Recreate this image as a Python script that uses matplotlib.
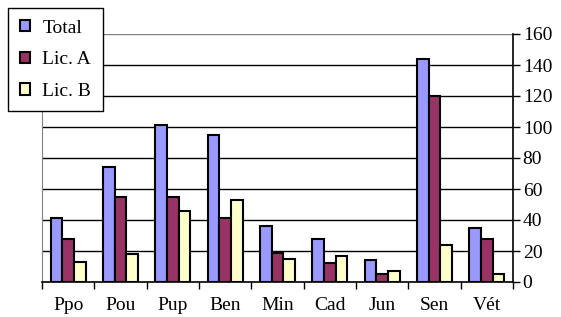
import matplotlib
matplotlib.use("Agg")
import matplotlib.pyplot as plt
import numpy as np

categories = ["Ppo", "Pou", "Pup", "Ben", "Min", "Cad", "Jun", "Sen", "Vét"]
total = [41, 74, 101, 95, 36, 28, 14, 144, 35]
lic_a = [28, 55, 55, 41, 19, 12, 5, 120, 28]
lic_b = [13, 18, 46, 53, 15, 17, 7, 24, 5]
series_names = ["Total", "Lic. A", "Lic. B"]
colors = ["#9999FF", "#993366", "#FFFFCC"]
y_ticks = [0, 20, 40, 60, 80, 100, 120, 140, 160]

plt.rcParams['font.family'] = ['Liberation Serif', 'DejaVu Serif']
FS = 14

fig = plt.figure(figsize=(5.61, 3.17), dpi=100)
W, H = 561, 317
ax = fig.add_axes([42 / W, 1 - 282 / H, (513 - 42) / W, (282 - 34) / H])

x = np.arange(len(categories))
bw = 0.225
for i, (vals, name, c) in enumerate(zip([total, lic_a, lic_b], series_names, colors)):
    ax.bar(x + (i - 1) * bw, vals, width=bw, color=c, edgecolor="black",
           linewidth=1.5, label=name, zorder=3)

ax.set_xlim(-0.5, len(categories) - 0.5)
ax.set_ylim(0, 160)
ax.set_yticks(y_ticks)
ax.yaxis.tick_right()
ax.tick_params(axis="y", direction="out", length=5, width=1, labelsize=FS, pad=2)
for t in y_ticks[1:]:
    ax.axhline(t, color="#808080" if t == 160 else "black", linewidth=1, zorder=1)

ax.set_xticks(x)
ax.set_xticklabels(categories, fontsize=FS)
ax.set_xticks(np.arange(len(categories) + 1) - 0.5, minor=True)
ax.tick_params(axis="x", which="major", length=0, pad=11)
ax.tick_params(axis="x", which="minor", direction="out", length=5, width=1)

ax.spines["top"].set_visible(False)
ax.spines["left"].set_color("#808080")
ax.spines["right"].set_linewidth(1.2)
ax.spines["bottom"].set_linewidth(1.2)

leg = ax.legend(loc="upper left", bbox_to_anchor=(8 / W, 1 - 8 / H),
                bbox_transform=fig.transFigure, borderaxespad=0,
                fancybox=False, edgecolor="black", framealpha=1,
                fontsize=FS, handlelength=0.52, handleheight=0.52,
                handletextpad=0.65, labelspacing=0.75, borderpad=0.6)
leg.get_frame().set_linewidth(1)
leg.set_zorder(10)
for h in leg.legend_handles:
    h.set_linewidth(1.5)

fig.savefig("out.png", dpi=100)
